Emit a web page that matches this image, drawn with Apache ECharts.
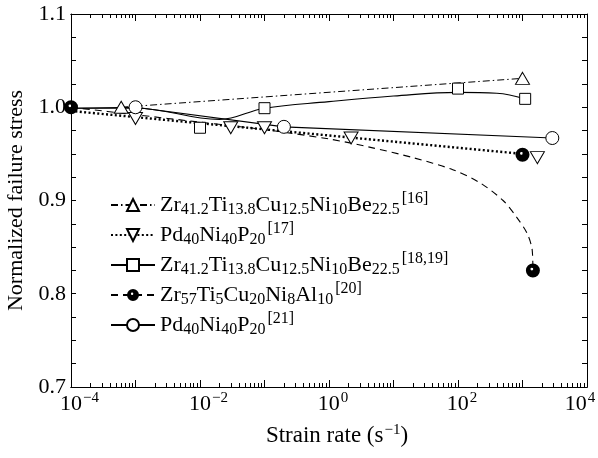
<!DOCTYPE html>
<html>
<head>
<meta charset="utf-8">
<script src="https://cdn.jsdelivr.net/npm/echarts@6/dist/echarts.min.js"></script>
<style>
  html, body { margin: 0; padding: 0; background: #fff; }
  #chart { width: 598px; height: 458px; }
</style>
</head>
<body>
<div id="chart"></div>
<script>
// ticks of the log x axis
const xLabelTicks = [1e-4, 1e-2, 1, 1e2, 1e4];
const xDecadeTicks = [1e-4, 1e-3, 1e-2, 1e-1, 1, 1e1, 1e2, 1e3, 1e4];
const xMinorTicks = [];
xDecadeTicks.slice(0, -1).forEach(function (d) {
  [2, 3, 4, 5, 6, 7, 8, 9].forEach(function (k) { xMinorTicks.push(k * d); });
});

// legend names (markup: _{} subscript, ^{} superscript)
const names = [
  'Zr_{41.2}Ti_{13.8}Cu_{12.5}Ni_{10}Be_{22.5}^{[16]}',
  'Pd_{40}Ni_{40}P_{20}^{[17]}',
  'Zr_{41.2}Ti_{13.8}Cu_{12.5}Ni_{10}Be_{22.5}^{[18,19]}',
  'Zr_{57}Ti_{5}Cu_{20}Ni_{8}Al_{10}^{[20]}',
  'Pd_{40}Ni_{40}P_{20}^{[21]}'
];

// [16] dash-dot, open triangles
const ref16Line = [[6e-4, 1.0], [1e3, 1.031]];
const ref16Pts = [[6e-4, 1.0], [1e3, 1.031]];

// [17] dotted, open down triangles
const ref17Line = [[1e-4, 0.996], [1e3, 0.950]];
const ref17Pts = [[1e-3, 0.988], [3e-2, 0.978], [0.1, 0.978], [2.2, 0.967], [1.7e3, 0.946]];

// [18,19] solid, open squares
const ref18Line = [[1e-4, 0.999], [1e-3, 0.999], [0.02, 0.987], [0.1, 0.999], [1, 1.006],
  [10, 1.012], [100, 1.016], [400, 1.015], [1.1e3, 1.009]];
const ref18Pts = [[1e-2, 0.978], [0.1, 0.999], [100, 1.020], [1.1e3, 1.009]];

// [20] dashed, filled circles
const ref20Line = [[1e-4, 1.0], [1e-3, 0.992], [1e-2, 0.984], [0.1, 0.976], [1, 0.966],
  [4.4, 0.957], [20, 0.946], [83, 0.933], [219, 0.919], [500, 0.900], [813, 0.882],
  [1175, 0.865], [1413, 0.847], [1450, 0.825]];
const ref20Pts = [[1e-4, 1.0], [1e3, 0.949], [1.45e3, 0.825]];

// [21] solid, open circles
const ref21Line = [[1e-4, 0.999], [1e-3, 1.0], [0.2, 0.979], [2.9e3, 0.967]];
const ref21Pts = [[1e-3, 1.0], [0.2, 0.979], [2.9e3, 0.967]];

const FONT = '"Liberation Serif", "DejaVu Serif", serif';
const filledDot = 'path://M0,10 A10,10 0 1,1 20,10 A10,10 0 1,1 0,10 Z M6.5,8 A2,2 0 1,0 10.5,8 A2,2 0 1,0 6.5,8 Z';

const richText = {
  b: { fontFamily: FONT, fontSize: 22, color: '#000', verticalAlign: 'middle', lineHeight: 22 },
  sub: { fontFamily: FONT, fontSize: 16, color: '#000', verticalAlign: 'middle', lineHeight: 15, padding: [10, 0, 0, 0] },
  sup: { fontFamily: FONT, fontSize: 16, color: '#000', verticalAlign: 'middle', lineHeight: 15, padding: [0, 0, 12, 2] }
};

function toRich(str) {
  let out = '';
  const re = /([_^])\{([^}]*)\}|([^_^]+)/g;
  let m;
  while ((m = re.exec(str)) !== null) {
    if (m[3]) out += '{b|' + m[3] + '}';
    else out += '{' + (m[1] === '_' ? 'sub' : 'sup') + '|' + m[2] + '}';
  }
  return out;
}

const openStyle = { color: '#fff', borderColor: '#000', borderWidth: 1, opacity: 1 };
const markers = [
  { symbol: 'triangle', size: [14, 12], rotate: 0, item: openStyle },
  { symbol: 'triangle', size: [14, 12], rotate: 180, item: openStyle },
  { symbol: 'rect', size: 11, rotate: 0, item: openStyle },
  { symbol: filledDot, size: 14, rotate: 0, item: { color: '#000', opacity: 1 } },
  { symbol: 'circle', size: 13, rotate: 0, item: openStyle }
];
const lines = [
  { data: ref16Line, pts: ref16Pts, style: { type: [7, 3, 1.5, 3], width: 1 }, smooth: false },
  { data: ref17Line, pts: ref17Pts, style: { type: [2, 2.4], width: 2.4 }, smooth: false },
  { data: ref18Line, pts: ref18Pts, style: { type: 'solid', width: 1.1 }, smooth: 0.4 },
  { data: ref20Line, pts: ref20Pts, style: { type: [7, 5], width: 1.1 }, smooth: 0.3 },
  { data: ref21Line, pts: ref21Pts, style: { type: 'solid', width: 1.1 }, smooth: false }
];

const series = [];
lines.forEach(function (l, i) {
  const mk = markers[i];
  series.push({
    name: names[i], type: 'line', data: l.data, smooth: l.smooth,
    showSymbol: false, symbol: mk.symbol, symbolSize: mk.size, symbolRotate: mk.rotate,
    lineStyle: Object.assign({ color: '#000' }, l.style),
    itemStyle: mk.item, silent: true, z: 2
  });
});
lines.forEach(function (l, i) {
  const mk = markers[i];
  series.push({
    name: names[i], type: 'scatter', data: l.pts,
    symbol: mk.symbol, symbolSize: mk.size, symbolRotate: mk.rotate,
    itemStyle: mk.item, emphasis: { disabled: true }, z: 3
  });
});

// "10" centred on the tick, the exponent hanging to the right
function expLabel(v) {
  const e = Math.round(Math.log10(v));
  const s = String(e).replace('-', '\u2212');
  if (e === 4) return '{b|10}{sup|' + s + '}{pr| }';
  return '{p' + s.length + '| }{b|10}{sup|' + s + '}';
}

const axisLine = { show: true, lineStyle: { color: '#000', width: 1 } };
function xAxisOf(pos, ticks, len, withLabels) {
  return {
    type: 'log', logBase: 10, min: 1e-4, max: 1e4, position: pos,
    axisLine: axisLine,
    axisTick: { show: true, inside: true, length: len, customValues: ticks, lineStyle: { color: '#000' } },
    axisLabel: withLabels ? {
      show: true, customValues: xLabelTicks, margin: 6, formatter: expLabel,
      rich: {
        b: { fontFamily: FONT, fontSize: 22, color: '#000', verticalAlign: 'middle', lineHeight: 22 },
        sup: { fontFamily: FONT, fontSize: 15, color: '#000', verticalAlign: 'middle', lineHeight: 15, padding: [0, 0, 12, 1] },
        p1: { width: 8 }, p2: { width: 17 }, pr: { width: 14 }
      }
    } : { show: false },
    splitLine: { show: false }
  };
}
function yAxisOf(pos, withLabels) {
  return {
    type: 'value', min: 0.7, max: 1.1, interval: 0.1, position: pos,
    axisLine: axisLine,
    axisTick: { show: true, inside: true, length: 5, lineStyle: { color: '#000' } },
    minorTick: { show: true, splitNumber: 4, length: 5, lineStyle: { color: '#000' } },
    axisLabel: withLabels ? {
      show: true, margin: 5, fontFamily: FONT, fontSize: 22, color: '#000',
      formatter: function (v) { return v.toFixed(1); }
    } : { show: false },
    splitLine: { show: false }
  };
}

const xMain = xAxisOf('bottom', xDecadeTicks, 7, true);
xMain.name = '{b|Strain rate (s}{sup|\u22121}{b|)}';
xMain.nameLocation = 'middle';
xMain.nameGap = 33;
xMain.nameTextStyle = {
  padding: [0, 0, 0, 16],
  rich: {
    b: { fontFamily: FONT, fontSize: 23, color: '#000', verticalAlign: 'middle', lineHeight: 22 },
    sup: { fontFamily: FONT, fontSize: 15, color: '#000', verticalAlign: 'middle', lineHeight: 15, padding: [0, 0, 12, 1] }
  }
};

const yMain = yAxisOf('left', true);
yMain.name = 'Normalized failure stress';
yMain.nameLocation = 'middle';
yMain.nameGap = 43;
yMain.nameTextStyle = { fontFamily: FONT, fontSize: 22, color: '#000' };

const chart = echarts.init(document.getElementById('chart'), null, { renderer: 'canvas' });
chart.setOption({
  backgroundColor: '#fff',
  animation: false,
  grid: { left: 71, right: 11, top: 14, bottom: 71, outerBoundsMode: 'none' },
  legend: {
    data: names, orient: 'vertical', left: 110, top: 191,
    itemWidth: 44, itemHeight: 15, itemGap: 2, padding: 0,
    selectedMode: false,
    formatter: toRich,
    textStyle: { fontFamily: FONT, fontSize: 22, color: '#000', rich: richText }
  },
  xAxis: [
    xMain,
    xAxisOf('bottom', xMinorTicks, 4, false),
    xAxisOf('top', xDecadeTicks, 7, false),
    xAxisOf('top', xMinorTicks, 4, false)
  ],
  yAxis: [yMain, yAxisOf('right', false)],
  series: series
});
</script>
</body>
</html>
